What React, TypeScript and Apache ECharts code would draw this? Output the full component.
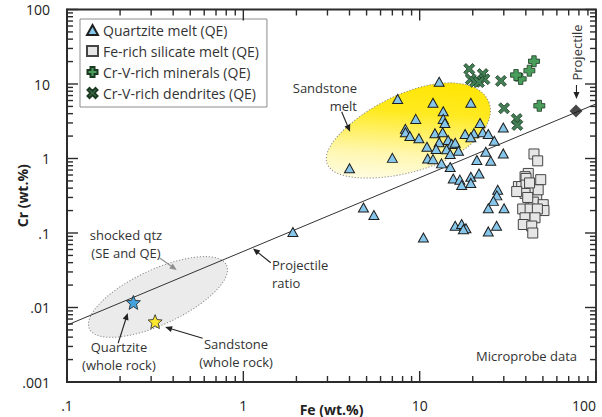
import React, { useEffect, useRef } from 'react';
import * as echarts from 'echarts';

const FONT = '"Open Sans", "Noto Sans", "DejaVu Sans", sans-serif';

// ---------- data (Fe wt.%, Cr wt.%) ----------
const quartziteFe = [12.9, 7.5, 11.9, 19.5, 13.6, 9.5, 13.6, 13.9, 22.0, 8.3, 8.3, 8.8, 9.9, 12.2, 13.5, 18.1, 20.3, 22.8, 24.5, 29.8, 19.5, 26.5, 14.5, 12.9, 11.0, 15.2, 15.9, 12.4, 14.2, 16.6, 14.9, 23.7, 29.8, 11.1, 11.9, 13.3, 14.9, 21.1, 25.3, 7.0, 4.0, 15.5, 16.9, 19.5, 21.7, 17.3, 19.5, 27.7, 27.4, 26.2, 24.5, 30.1, 4.8, 5.5, 15.9, 17.3, 18.3, 17.7, 24.5, 27.3, 10.5, 1.91];
const quartziteCr = [10.7, 6.3, 5.6, 5.6, 4.3, 3.4, 3.4, 3.0, 3.0, 2.5, 2.25, 2.0, 1.87, 2.18, 2.25, 2.13, 2.18, 2.25, 2.13, 2.6, 1.93, 1.73, 1.77, 1.65, 1.44, 1.57, 1.63, 1.34, 1.33, 1.27, 1.15, 1.23, 1.17, 1.0, 0.98, 0.86, 0.77, 0.955, 0.93, 1.02, 0.74, 0.54, 0.52, 0.57, 0.63, 0.44, 0.47, 0.38, 0.32, 0.27, 0.215, 0.215, 0.22, 0.174, 0.125, 0.132, 0.116, 0.112, 0.105, 0.125, 0.087, 0.103];

const feSilicateFe = [44.5, 46.7, 41.3, 39.6, 40.1, 48.6, 36.3, 37.9, 40.1, 43.2, 39.6, 46.1, 44.1, 50.2, 38.4, 42.3, 50.7, 46.5, 39.6, 45.1, 38.7, 43.2, 43.8, 41.0, 35.5, 47.0, 42.0];
const feSilicateCr = [1.15, 0.93, 0.63, 0.57, 0.54, 0.52, 0.42, 0.42, 0.44, 0.36, 0.34, 0.29, 0.26, 0.24, 0.21, 0.21, 0.2, 0.21, 0.16, 0.16, 0.13, 0.124, 0.10, 0.30, 0.36, 0.38, 0.47];

const mineralsFe = [44.5, 41.9, 37.4, 35.2, 47.7];
const mineralsCr = [20.2, 15.1, 11.7, 13.2, 5.1];

const dendritesFe = [19.1, 19.5, 20.6, 22.8, 23.3, 21.7, 28.9, 30.1, 35.5, 35.8];
const dendritesCr = [15.9, 11.6, 10.7, 13.6, 11.6, 10.6, 11.0, 4.72, 3.39, 2.82];

const wholeRockNames = ['Quartzite', 'Sandstone'];
const wholeRockFe = [0.238, 0.316];
const wholeRockCr = [0.0117, 0.00646];

const projectileFe = [77];
const projectileCr = [4.34];

const ratioLineFe = [0.1, 100];
const ratioLineCr = [0.0058, 5.4];

// fields (ellipses): centre, end of major axis, minor/major ratio, egg factor
const fieldNames = ['shocked qtz', 'Sandstone melt'];
const fieldCentreFe = [0.328, 8.59];
const fieldCentreCr = [0.01384, 2.2];
const fieldEndFe = [0.803, 24.7];
const fieldEndCr = [0.037, 5.68];
const fieldRatio = [0.363, 0.45];
const fieldEgg = [0, 0.14];

// annotations
const noteTexts = ['Sandstone\nmelt', 'shocked qtz\n(SE and QE)', 'Quartzite\n(whole rock)', 'Sandstone\n(whole rock)', 'Projectile\nratio', 'Microprobe data'];
const noteFe = [4.41, 0.216, 0.197, 0.909, 1.454, 78.1];
const noteCr = [6.69, 0.0712, 0.0022, 0.00245, 0.0282, 0.00223];
const arrowFromFe = [3.61, 0.337, 0.195, 0.588, 1.43, 77.5];
const arrowFromCr = [4.25, 0.0458, 0.00331, 0.00386, 0.0399, 9.7];
const arrowToFe = [4.03, 0.419, 0.221, 0.36, 1.134, 77.5];
const arrowToCr = [2.29, 0.0319, 0.00843, 0.00547, 0.0619, 6.29];
const projectileLabelFe = 77.7;
const projectileLabelCr = 26.5;

// ticks
const xDecades = [0.1, 1, 10, 100];
const yDecades = [0.001, 0.01, 0.1, 1, 10, 100];
const minorMultipliers = [2, 3, 4, 5, 6, 7, 8, 9];
const minorsOf = (decades: number[]) =>
  decades.slice(0, -1).flatMap((d) => minorMultipliers.map((m) => Number((m * d).toPrecision(6))));
const xMinor = minorsOf(xDecades);
const yMinor = minorsOf(yDecades);

const pair = (xs: number[], ys: number[]) => xs.map((x, i) => [x, ys[i]]);
const fmt = (v: number) => {
  const s = String(Number(v.toPrecision(6)));
  return s.startsWith('0.') ? s.slice(1) : s;
};

const PLUS = 'path://M3,0H7V3H10V7H7V10H3V7H0V3H3Z';
const CROSS = 'path://M2,0L5,3L8,0L10,2L7,5L10,8L8,10L5,7L2,10L0,8L3,5L0,2Z';
const STAR = 'path://M10,0L12.65,6.36L19.51,6.91L14.28,11.39L15.88,18.09L10,14.5L4.12,18.09L5.72,11.39L0.49,6.91L7.35,6.36Z';

function arrow(from: number[], to: number[], color: string) {
  const dx = to[0] - from[0];
  const dy = to[1] - from[1];
  const len = Math.hypot(dx, dy) || 1;
  const ux = dx / len, uy = dy / len;
  const hl = 7, hw = 3;
  const bx = to[0] - ux * hl, by = to[1] - uy * hl;
  return [
    { type: 'line', shape: { x1: from[0], y1: from[1], x2: bx + ux, y2: by + uy }, style: { stroke: color, lineWidth: 1.1 } },
    {
      type: 'polygon',
      shape: { points: [[to[0], to[1]], [bx - uy * hw, by + ux * hw], [bx + uy * hw, by - ux * hw]] },
      style: { fill: color },
    },
  ];
}

function tickLine(x1: number, y1: number, x2: number, y2: number) {
  return { type: 'line', shape: { x1, y1, x2, y2 }, style: { stroke: '#2b2b2b', lineWidth: 1.4 } };
}

export default function App() {
  const ref = useRef<HTMLDivElement>(null);
  useEffect(() => {
    if (!ref.current) return;
    const chart = echarts.init(ref.current, undefined, { renderer: 'svg' });

    const nameStyle = { fontFamily: FONT, fontSize: 14, fontWeight: 'bold', color: '#222' };
    const frameLine = { show: true, onZero: false, lineStyle: { color: '#2b2b2b', width: 1.8 } };

    const option: any = {
      animation: false,
      backgroundColor: '#fff',
      textStyle: { fontFamily: FONT },
      grid: {
        left: 67,
        right: 6,
        top: 9.5,
        bottom: 35,
        outerBoundsMode: 'none',
        show: true,
        borderColor: '#2b2b2b',
        borderWidth: 1.8,
      },
      legend: {
        orient: 'vertical',
        left: 80,
        top: 19,
        itemWidth: 11,
        itemHeight: 10,
        itemGap: 7,
        padding: [4, 8, 7, 6],
        borderColor: '#8c8c8c',
        borderWidth: 1,
        backgroundColor: '#fff',
        textStyle: { fontFamily: FONT, fontSize: 14, color: '#333' },
        data: ['Quartzite melt (QE)', 'Fe-rich silicate melt (QE)', 'Cr-V-rich minerals (QE)', 'Cr-V-rich dendrites (QE)'],
      },
      xAxis: {
        type: 'log',
        logBase: 10,
        min: 0.1,
        max: 100,
        position: 'bottom',
        axisLine: frameLine,
        axisTick: { show: false },
        axisLabel: { formatter: fmt, fontFamily: FONT, fontSize: 14, color: '#222', margin: 16, alignMaxLabel: 'right' },
        splitLine: { show: false },
        name: 'Fe (wt.%)',
        nameLocation: 'middle',
        nameGap: 20,
        nameMoveOverlap: false,
        nameTextStyle: nameStyle,
      },
      yAxis: {
        type: 'log',
        logBase: 10,
        min: 0.001,
        max: 100,
        position: 'left',
        axisLine: frameLine,
        axisTick: { show: false },
        axisLabel: { formatter: fmt, fontFamily: FONT, fontSize: 14, color: '#222', margin: 17 },
        splitLine: { show: false },
        name: 'Cr (wt.%)',
        nameLocation: 'middle',
        nameGap: 38,
        nameMoveOverlap: false,
        nameTextStyle: nameStyle,
      },
      series: [
        {
          name: 'fields',
          type: 'custom',
          silent: true,
          z: 1,
          encode: { x: 0, y: 1 },
          data: fieldNames.map((_, i) => [fieldCentreFe[i], fieldCentreCr[i], fieldEndFe[i], fieldEndCr[i], fieldRatio[i], fieldEgg[i]]),
          renderItem: (params: any, api: any) => {
            const i = params.dataIndex;
            const c = api.coord([api.value(0), api.value(1)]);
            const e = api.coord([api.value(2), api.value(3)]);
            const dx = e[0] - c[0];
            const dy = e[1] - c[1];
            const rx = Math.hypot(dx, dy);
            const ry = rx * api.value(4);
            const egg = api.value(5);
            const angle = Math.atan2(-dy, dx);
            const pts: number[][] = [];
            for (let k = 0; k < 120; k++) {
              const t = (k / 120) * Math.PI * 2;
              const ct = Math.cos(t);
              pts.push([rx * ct, ry * (1 + egg * ct) * Math.sin(t)]);
            }
            const fill =
              i === 0
                ? '#ebebeb'
                : new echarts.graphic.LinearGradient(0.05, 0.95, 0.9, 0.1, [
                    { offset: 0, color: '#ffffff' },
                    { offset: 0.35, color: '#fff7b0' },
                    { offset: 0.7, color: '#ffea20' },
                    { offset: 1, color: '#ffe500' },
                  ]);
            return {
              type: 'polygon',
              x: c[0],
              y: c[1],
              rotation: angle,
              shape: { points: pts },
              style: { fill, stroke: '#8a8a8a', lineWidth: 1, lineDash: [1.2, 1.8] },
            };
          },
        },
        {
          name: 'Projectile ratio',
          type: 'line',
          z: 2,
          symbol: 'none',
          silent: true,
          data: pair(ratioLineFe, ratioLineCr),
          lineStyle: { color: '#333', width: 1 },
        },
        {
          name: 'Quartzite melt (QE)',
          type: 'scatter',
          z: 3,
          symbol: 'triangle',
          symbolSize: [10, 9],
          data: pair(quartziteFe, quartziteCr),
          itemStyle: { color: '#86c6ea', borderColor: '#1e1e1e', borderWidth: 1, opacity: 1 },
        },
        {
          name: 'Fe-rich silicate melt (QE)',
          type: 'scatter',
          z: 3,
          symbol: 'rect',
          symbolSize: 10,
          data: pair(feSilicateFe, feSilicateCr),
          itemStyle: { color: '#e6e6e6', borderColor: '#444', borderWidth: 1, opacity: 1 },
        },
        {
          name: 'Cr-V-rich minerals (QE)',
          type: 'scatter',
          z: 3,
          symbol: PLUS,
          symbolSize: 11,
          data: pair(mineralsFe, mineralsCr),
          itemStyle: { color: '#4a9e5c', borderColor: '#1c3a22', borderWidth: 0.8, opacity: 1 },
        },
        {
          name: 'Cr-V-rich dendrites (QE)',
          type: 'scatter',
          z: 3,
          symbol: CROSS,
          symbolSize: 11,
          data: pair(dendritesFe, dendritesCr),
          itemStyle: { color: '#437f55', borderColor: '#1c3a22', borderWidth: 0.8, opacity: 1 },
        },
        {
          name: 'Whole rock',
          type: 'scatter',
          z: 4,
          symbol: STAR,
          symbolSize: 14,
          data: wholeRockNames.map((n, i) => ({
            name: n,
            value: [wholeRockFe[i], wholeRockCr[i]],
            itemStyle: { color: i === 0 ? '#1b8fd8' : '#ffe600' },
          })),
          itemStyle: { borderColor: '#222', borderWidth: 1 },
        },
        {
          name: 'Projectile',
          type: 'scatter',
          z: 4,
          symbol: 'diamond',
          symbolSize: 13,
          data: pair(projectileFe, projectileCr),
          itemStyle: { color: '#1a1a1a' },
        },
        {
          name: 'notes',
          type: 'custom',
          silent: true,
          z: 6,
          data: [[1, 1]],
          renderItem: (_p: any, api: any) => {
            const children: any[] = [];
            // frame ticks on all four sides
            const bl = api.coord([xDecades[0] * 1.0001, yDecades[0] * 1.0001]);
            const tr = api.coord([xDecades[xDecades.length - 1] * 0.9999, yDecades[yDecades.length - 1] * 0.9999]);
            const left = bl[0], bottom = bl[1], right = tr[0], top = tr[1];
            const xt = [...xDecades.map((v) => [v, 11]), ...xMinor.map((v) => [v, 6])];
            const yt = [...yDecades.map((v) => [v, 11]), ...yMinor.map((v) => [v, 6])];
            xt.forEach(([v, len]) => {
              const px = api.coord([v, 1])[0];
              children.push(tickLine(px, bottom, px, bottom - len));
              children.push(tickLine(px, top, px, top + len));
            });
            yt.forEach(([v, len]) => {
              const py = api.coord([1, v])[1];
              children.push(tickLine(left, py, left + len, py));
              children.push(tickLine(right, py, right - len, py));
            });
            const aligns = ['right', 'center', 'center', 'center', 'left', 'right'];
            noteTexts.forEach((t, i) => {
              const p = api.coord([noteFe[i], noteCr[i]]);
              children.push({
                type: 'text',
                x: p[0],
                y: p[1],
                style: {
                  text: t,
                  fill: '#333',
                  font: `13px ${FONT}`,
                  align: aligns[i],
                  verticalAlign: 'middle',
                  lineHeight: 18,
                },
              });
              const a = api.coord([arrowFromFe[i], arrowFromCr[i]]);
              const b = api.coord([arrowToFe[i], arrowToCr[i]]);
              children.push(...arrow(a, b, i === 1 ? '#8f8f8f' : '#222'));
            });
            const pl = api.coord([projectileLabelFe, projectileLabelCr]);
            children.push({
              type: 'text',
              x: pl[0],
              y: pl[1],
              rotation: Math.PI / 2,
              style: { text: 'Projectile', fill: '#333', font: `13px ${FONT}`, align: 'center', verticalAlign: 'middle' },
            });
            return { type: 'group', children };
          },
        },
      ],
    };
    chart.setOption(option);
    return () => chart.dispose();
  }, []);
  return <div ref={ref} style={{ position: 'fixed', left: 0, top: 0, width: 602, height: 417 }} />;
}
